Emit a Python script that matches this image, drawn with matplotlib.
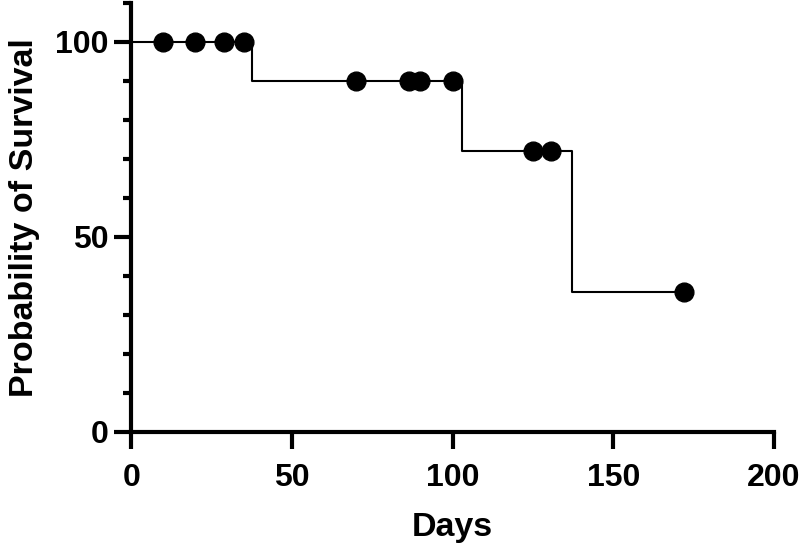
import matplotlib.pyplot as plt
from matplotlib.ticker import MultipleLocator

plt.rcParams['font.family'] = ['Liberation Sans', 'DejaVu Sans']
plt.rcParams['font.weight'] = 'bold'

# Kaplan-Meier curve
step_days = [0, 37.5, 103, 137, 172]
step_surv = [100, 90, 72, 36, 36]

# censored observations
cens_days = [10, 20, 29, 35, 70, 86.5, 90, 100, 125, 130.5, 172]
cens_surv = [100, 100, 100, 100, 90, 90, 90, 90, 72, 72, 36]

fig = plt.figure(figsize=(8, 5.48), dpi=100)
ax = fig.add_axes([0.164, 0.2117, 0.8035, 0.783])

ax.plot(step_days, step_surv, drawstyle='steps-post', color='black', lw=1.5, zorder=2)
ax.plot(cens_days, cens_surv, 'o', color='black', ms=13.5, zorder=3, clip_on=False)

ax.set_xlim(0, 200)
ax.set_ylim(0, 110)
ax.set_xticks([0, 50, 100, 150, 200])
ax.set_yticks([0, 50, 100])
ax.yaxis.set_minor_locator(MultipleLocator(10))

for side in ['top', 'right']:
    ax.spines[side].set_visible(False)
for side in ['left', 'bottom']:
    ax.spines[side].set_linewidth(3)

ax.tick_params(which='major', length=12, width=3, labelsize=23)
ax.tick_params(axis='x', which='major', pad=10)
ax.tick_params(axis='y', which='major', pad=4)
ax.tick_params(which='minor', length=6, width=3)

ax.set_xlabel('Days', fontsize=24.5, fontweight='bold', labelpad=14)
ax.set_ylabel('Probability of Survival', fontsize=24.5, fontweight='bold', labelpad=11)

fig.savefig('out.png', dpi=100)
